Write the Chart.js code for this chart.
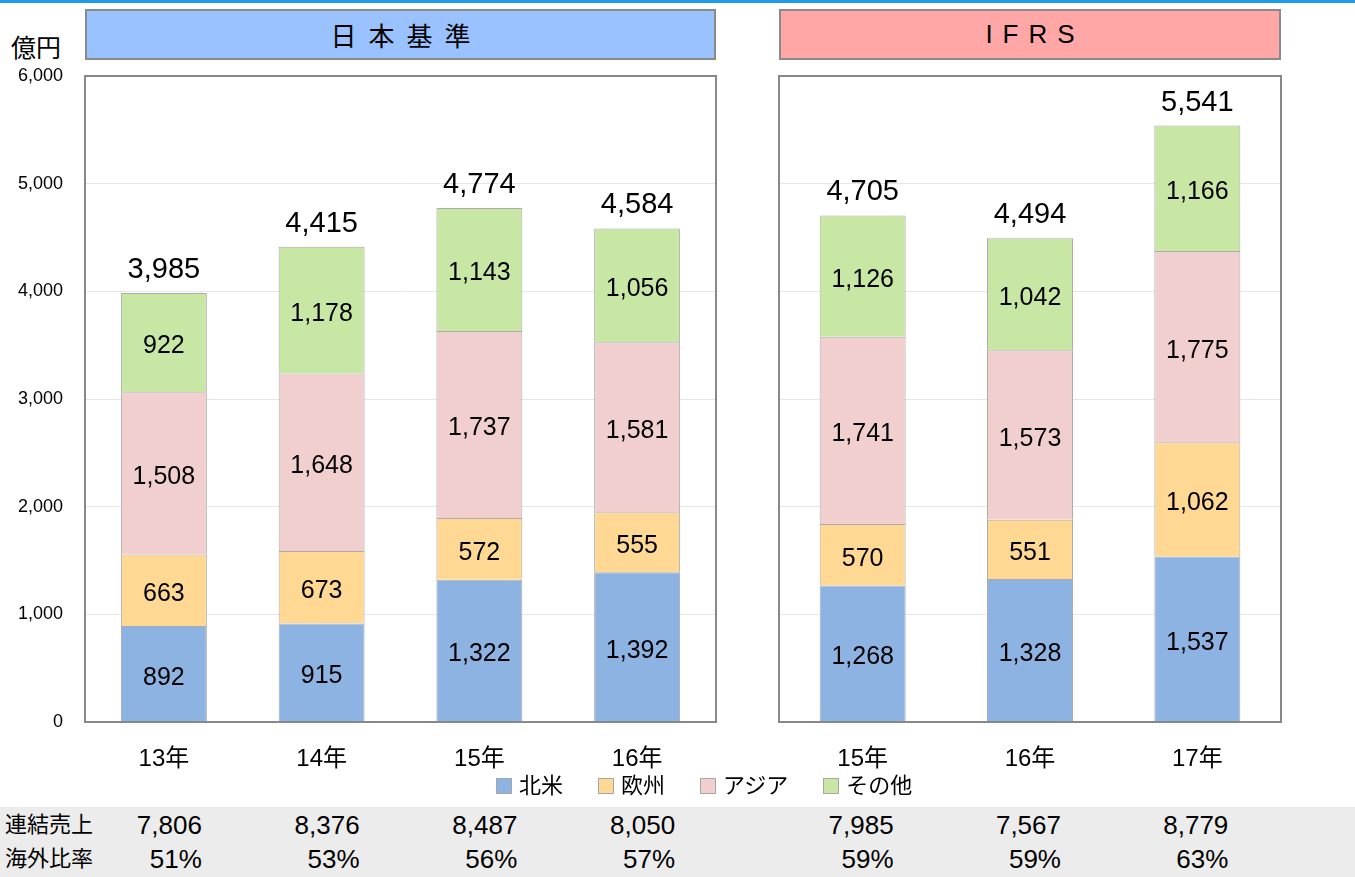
<!DOCTYPE html>
<html>
<head>
<meta charset="utf-8">
<script src="https://cdn.jsdelivr.net/npm/chart.js@4.4.1/dist/chart.umd.min.js"></script>
<style>
body { margin:0; width:1355px; height:877px; position:relative; overflow:hidden; background:#fff;
       font-family:"Liberation Sans","Noto Sans CJK JP",sans-serif; color:#000; }
.topline { position:absolute; left:0; top:0; width:1355px; height:3px; background:#1e9ae8; }
.head { position:absolute; top:9px; height:51px; box-sizing:border-box; border:2px solid #8a8a8a;
        font-size:26px; display:flex; align-items:center; justify-content:center; }
#headL { left:85px; width:631px; background:#99c2ff; letter-spacing:12px; padding-left:12px; }
#headR { left:779px; width:502px; background:#ffa6a6; letter-spacing:10px; padding-left:10px; }
.unit { position:absolute; left:11px; top:33px; font-size:25px; line-height:30px; }
.box { position:absolute; top:0; }
#boxL { left:0; }
#boxR { left:760px; }
.band { position:absolute; left:0; top:807px; width:1355px; height:70px; background:#ececec; }
.rowlbl { position:absolute; left:5px; font-size:22px; line-height:30px; }
.cell { position:absolute; width:200px; font-size:26px; line-height:30px; text-align:right; }
#legend { position:absolute; left:496px; top:773px; display:flex; gap:35px; font-size:22px; line-height:26px; }
#legend span.item { display:flex; align-items:center; }
#legend i { display:inline-block; width:14px; height:14px; border:1px solid #a6a6a6; margin-right:7px; }
</style>
</head>
<body>
<div class="topline"></div>
<div class="head" id="headL">日本基準</div>
<div class="head" id="headR">IFRS</div>
<div class="unit">億円</div>
<div class="box" id="boxL"><canvas id="chartL" width="720" height="780"></canvas></div>
<div class="box" id="boxR"><canvas id="chartR" width="540" height="780"></canvas></div>
<div id="legend"></div>
<div class="band"></div>
<div class="rowlbl" style="top:810px">連結売上</div>
<div class="rowlbl" style="top:844px">海外比率</div>
<script>
// 日本基準 / IFRS
const yearsJ = ['13年', '14年', '15年', '16年'];
const yearsI = ['15年', '16年', '17年'];
const seriesNames = ['北米', '欧州', 'アジア', 'その他'];
const seriesColors = ['#8db3e2', '#ffd993', '#f2cfcf', '#c8e6a4'];

const northAmJ = [892, 915, 1322, 1392];
const europeJ = [663, 673, 572, 555];
const asiaJ = [1508, 1648, 1737, 1581];
const otherJ = [922, 1178, 1143, 1056];
const totalJ = [3985, 4415, 4774, 4584];

const northAmI = [1268, 1328, 1537];
const europeI = [570, 551, 1062];
const asiaI = [1741, 1573, 1775];
const otherI = [1126, 1042, 1166];
const totalI = [4705, 4494, 5541];

// 連結売上 / 海外比率
const salesJ = [7806, 8376, 8487, 8050];
const salesI = [7985, 7567, 8779];
const ratioJ = [51, 53, 56, 57];
const ratioI = [59, 59, 63];

Chart.defaults.font.family = '"Liberation Sans", "Noto Sans CJK JP", sans-serif';

const fmt = v => v.toLocaleString('en-US');

const segLabels = {
    id: 'segLabels',
    afterDatasetsDraw(chart, args, opts) {
        const ctx = chart.ctx;
        ctx.save();
        ctx.fillStyle = '#000';
        ctx.textAlign = 'center';
        ctx.textBaseline = 'middle';
        ctx.font = '25px ' + Chart.defaults.font.family;
        chart.data.datasets.forEach((ds, i) => {
            chart.getDatasetMeta(i).data.forEach((bar, j) => {
                ctx.fillText(fmt(ds.data[j]), bar.x, (bar.y + bar.base) / 2 + 4);
            });
        });
        ctx.font = '29px ' + Chart.defaults.font.family;
        const last = chart.getDatasetMeta(chart.data.datasets.length - 1);
        last.data.forEach((bar, j) => {
            ctx.fillText(fmt(opts.totals[j]), bar.x, bar.y - 23);
        });
        ctx.restore();
    }
};

const frame = {
    id: 'frame',
    afterDatasetsDraw(chart) {
        const a = chart.chartArea, ctx = chart.ctx;
        ctx.save();
        ctx.strokeStyle = '#888';
        ctx.lineWidth = 2;
        ctx.strokeRect(a.left, a.top, a.right - a.left, a.bottom - a.top);
        ctx.restore();
    }
};

function makeChart(id, labels, data, totals, showY, barPct, axisW, padRight) {
    return new Chart(document.getElementById(id), {
        type: 'bar',
        data: {
            labels: labels,
            datasets: seriesNames.map((n, i) => ({
                label: n,
                data: data[i],
                backgroundColor: seriesColors[i],
                borderColor: '#ababab',
                borderWidth: 1,
                barPercentage: barPct,
                categoryPercentage: 1
            }))
        },
        options: {
            responsive: false,
            animation: false,
            layout: { padding: { top: 76, right: padRight, left: 0, bottom: 0 } },
            plugins: {
                legend: { display: false },
                tooltip: { enabled: false },
                segLabels: { totals: totals }
            },
            scales: {
                x: {
                    stacked: true,
                    grid: { display: false },
                    border: { display: false },
                    ticks: { color: '#000', font: { size: 24 }, padding: 15, maxRotation: 0, autoSkip: false },
                    afterFit: s => { s.height = 58; }
                },
                y: {
                    stacked: true,
                    min: 0,
                    max: 6000,
                    grid: { color: '#e6e6e6', drawTicks: false },
                    border: { display: false },
                    ticks: { display: showY, stepSize: 1000, color: '#000', font: { size: 18 }, padding: 22, callback: v => fmt(v) },
                    afterFit: s => { s.width = axisW; }
                }
            }
        },
        plugins: [frame, segLabels]
    });
}

const chartL = makeChart('chartL', yearsJ, [northAmJ, europeJ, asiaJ, otherJ], totalJ, true, 0.545, 85, 4);
const chartR = makeChart('chartR', yearsI, [northAmI, europeI, asiaI, otherI], totalI, false, 0.514, 19, 19);

// legend
const legend = document.getElementById('legend');
seriesNames.forEach((n, i) => {
    const s = document.createElement('span');
    s.className = 'item';
    s.innerHTML = '<i style="background:' + seriesColors[i] + '"></i>' + n;
    legend.appendChild(s);
});

// bottom table
function addRow(chart, left, values, top, offset, suffix) {
    values.forEach((v, i) => {
        const d = document.createElement('div');
        d.className = 'cell';
        const x = left + chart.scales.x.getPixelForValue(i) + offset;
        d.style.left = (x - 200) + 'px';
        d.style.top = top + 'px';
        d.textContent = fmt(v) + suffix;
        document.body.appendChild(d);
    });
}
addRow(chartL, 0, salesJ, 810, 38, '');
addRow(chartL, 0, ratioJ, 844, 38, '%');
addRow(chartR, 760, salesI, 810, 31, '');
addRow(chartR, 760, ratioI, 844, 31, '%');
</script>
</body>
</html>
